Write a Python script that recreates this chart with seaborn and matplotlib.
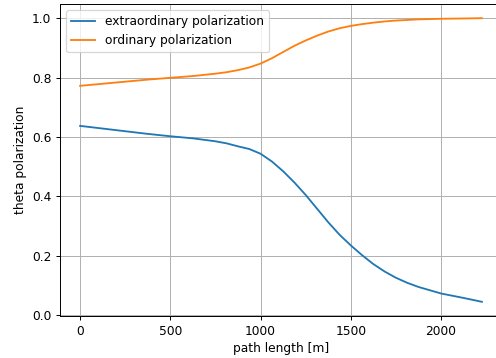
import matplotlib
matplotlib.use("Agg")
import matplotlib.pyplot as plt
import seaborn as sns
import pandas as pd

# values
path_length = [0, 125, 250, 375, 500, 625, 750, 812.5, 875, 937.5, 1000,
               1062.5, 1125, 1187.5, 1250, 1312.5, 1375, 1437.5, 1500,
               1562.5, 1625, 1687.5, 1750, 1812.5, 1875, 2000, 2125, 2226]
extraordinary = [0.637, 0.628, 0.619, 0.610, 0.602, 0.595, 0.585, 0.578,
                 0.568, 0.559, 0.543, 0.517, 0.484, 0.446, 0.404, 0.358,
                 0.312, 0.270, 0.234, 0.201, 0.171, 0.146, 0.125, 0.108,
                 0.094, 0.072, 0.057, 0.044]
ordinary = [0.772, 0.779, 0.786, 0.793, 0.799, 0.805, 0.813, 0.818, 0.825,
            0.834, 0.847, 0.865, 0.886, 0.907, 0.925, 0.941, 0.955, 0.966,
            0.974, 0.980, 0.985, 0.989, 0.992, 0.994, 0.996, 0.998, 0.999,
            1.000]

df = pd.DataFrame({"path": path_length,
                   "extra": extraordinary,
                   "ordinary": ordinary})

# the reference looks like a default matplotlib figure shown at ~88 dpi
dpi = 88
fig = plt.figure(figsize=(496 / dpi, 358 / dpi), dpi=dpi)
ax = fig.add_axes([60 / 496, 42 / 358, 442 / 496, 312 / 358])

sns.lineplot(data=df, x="path", y="extra", ax=ax, color="C0",
             label="extraordinary polarization")
sns.lineplot(data=df, x="path", y="ordinary", ax=ax, color="C1",
             label="ordinary polarization")

ax.set_xlabel("path length [m]")
ax.set_ylabel("theta polarization")
ax.grid(True)
ax.legend(loc="upper left")

fig.savefig("out.png", dpi=dpi)
